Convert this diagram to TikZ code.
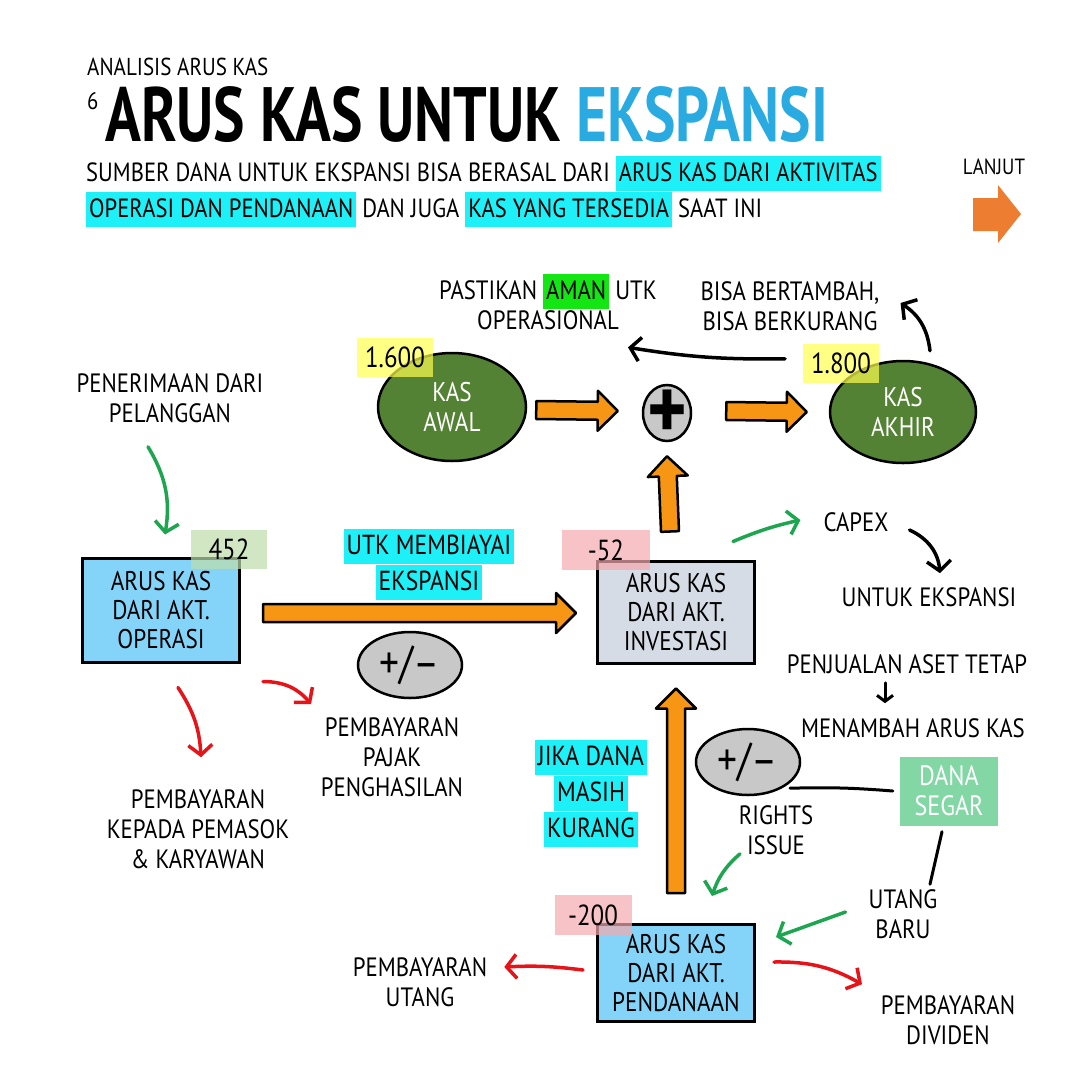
\documentclass[tikz,border=0pt]{standalone}
\usepackage{fontspec}
\setmainfont[FakeStretch=0.86]{PT Sans}
\newfontfamily\titlefont[FakeStretch=0.77]{PT Sans}
\usetikzlibrary{positioning,calc,shapes.geometric,arrows.meta}

\definecolor{kasgreen}{RGB}{84,130,53}
\definecolor{boxblue}{RGB}{131,212,248}
\definecolor{boxgray}{RGB}{214,220,229}
\definecolor{numyellow}{RGB}{255,255,80}
\definecolor{numgreen}{RGB}{190,222,170}
\definecolor{numpink}{RGB}{244,170,175}
\definecolor{hlcyan}{RGB}{30,240,248}
\definecolor{hlgreen}{RGB}{20,230,20}
\definecolor{arrorange}{RGB}{247,150,20}
\definecolor{lanjutorange}{RGB}{237,125,49}
\definecolor{segargreen}{RGB}{130,215,165}
\definecolor{arrred}{RGB}{230,20,25}
\definecolor{arrgreen}{RGB}{30,165,80}
\definecolor{ekspblue}{RGB}{41,171,226}
\definecolor{pmgray}{RGB}{200,200,200}

\newcommand{\hilite}[2][hlcyan]{{\setlength{\fboxsep}{0pt}\colorbox{#1}{\rule[-9pt]{0pt}{35pt}\hspace{3pt}#2\hspace{3pt}}}}

\begin{document}
\begin{tikzpicture}[x=1pt,y=-1pt,
  lbl/.style={align=center,inner sep=1pt,font=\fontsize{26.5}{30}\selectfont},
  flowbox/.style={lbl,draw,line width=3pt,minimum width=157,minimum height=102,font=\fontsize{27}{29}\selectfont},
  numbox/.style={lbl,fill opacity=0.7,text opacity=1,minimum width=76,minimum height=39,font=\fontsize{29}{30}\selectfont},
  kasell/.style={lbl,ellipse,draw,line width=2.5pt,fill=kasgreen,text=white,minimum width=148,minimum height=108,font=\fontsize{27}{30}\selectfont},
  pm/.style={ellipse,draw,line width=2.5pt,fill=pmgray,minimum width=104,minimum height=66,inner sep=0pt,font=\fontsize{46}{46}\selectfont},
  thin/.style={line width=3.5pt,line cap=round,-{Straight Barb[length=10pt,width=24pt]}},
  redarr/.style={thin,draw=arrred},
  greenarr/.style={thin,draw=arrgreen},
  blackarr/.style={thin,draw=black},
  fat/.style={draw=black,line width=2.5pt,fill=arrorange,line join=round,
    to path={let \p1=(\tikztostart), \p2=(\tikztotarget), \p3=($(\p2)!20pt!(\p1)$) in
      ($(\p1)!9pt!90:(\p2)$) -- ($(\p3)!9pt!90:(\p2)$) -- ($(\p3)!20pt!90:(\p2)$) -- (\p2)
      -- ($(\p3)!20pt!-90:(\p2)$) -- ($(\p3)!9pt!-90:(\p2)$) -- ($(\p1)!9pt!-90:(\p2)$) -- cycle}}]
\fill[white] (0,0) rectangle (1080,1080);
\useasboundingbox (0,0) rectangle (1080,1080);

% heading
\node[lbl,anchor=west,font=\fontsize{24.5}{28}\selectfont] (kicker) at (86,67) {ANALISIS ARUS KAS};
\node[lbl,anchor=west,font=\fontsize{24}{28}\selectfont] (num) at (86,101) {6};
\node[anchor=west,inner sep=0pt,font=\titlefont\bfseries\fontsize{77}{80}\selectfont] (title) at (105,115) {ARUS KAS UNTUK \textcolor{ekspblue}{EKSPANSI}};
\node[lbl,anchor=west,inner sep=0pt,font=\fontsize{26.3}{36}\selectfont] (sub1) at (86,173) {SUMBER DANA UNTUK EKSPANSI BISA BERASAL DARI \hilite{ARUS KAS DARI AKTIVITAS}};
\node[lbl,anchor=west,inner sep=0pt,font=\fontsize{26.3}{36}\selectfont] (sub2) at (86,209) {\hilite{OPERASI DAN PENDANAAN} DAN JUGA \hilite{KAS YANG TERSEDIA} SAAT INI};
\node[lbl,font=\fontsize{22}{26}\selectfont] (lanjut) at (994,167) {LANJUT};
\fill[lanjutorange] (973,198) -- (998,198) -- (998,185) -- (1021,214) -- (998,243) -- (998,231) -- (973,231) -- cycle;

% kas awal + kas akhir
\node[lbl] (aman) at (548,302) {PASTIKAN \hilite[hlgreen]{AMAN} UTK\\OPERASIONAL};
\node[lbl] (bisa) at (790,306) {BISA BERTAMBAH,\\BISA BERKURANG};
\node[kasell] (awal) at (452,407) {KAS\\AWAL};
\node[kasell,minimum width=146,minimum height=102] (akhir) at (903,412) {KAS\\AKHIR};
\node[numbox,fill=numyellow] (n1600) at (395,357) {1.600};
\node[numbox,fill=numyellow] (n1800) at (841,363) {1.800};
\node[ellipse,draw,line width=2.5pt,fill=pmgray,minimum width=48,minimum height=56,inner sep=0pt,font=\bfseries\fontsize{88}{88}\selectfont] (plus) at (667,413) {\smash{\makebox[0pt]{\raisebox{-0.3em}{+}}}};
\draw[fat] ($(awal.east)+(9,3)$) to ($(plus.west)+(-24,-2)$);
\draw[fat] ($(plus.east)+(34,-2)$) to ($(akhir.west)+(-22,0)$);
\draw[blackarr] ($(akhir.north)+(-118,-1)$) to[bend left=5] ($(aman.south)+(80,16)$);
\draw[blackarr] ($(akhir.north)+(27,-9)$) to[bend right=25] ($(bisa.east)+(20,-3)$);

% operasi
\node[lbl] (terima) at (170,398) {PENERIMAAN DARI\\PELANGGAN};
\node[flowbox,fill=boxblue,minimum height=104] (operasi) at (161,610) {ARUS KAS\\DARI AKT.\\OPERASI};
\node[numbox,fill=numgreen] (n452) at (229,549) {452};
\node[lbl,font=\fontsize{27.5}{34}\selectfont] (biayai) at (429,564) {\hilite{UTK MEMBIAYAI}\\\hilite{EKSPANSI}};
\node[pm] (pm1) at (410,665) {+/--};
\node[lbl] (pajak) at (392,757) {PEMBAYARAN\\PAJAK\\PENGHASILAN};
\node[lbl] (pemasok) at (198,829) {PEMBAYARAN\\KEPADA PEMASOK\\\& KARYAWAN};
\draw[greenarr] ($(terima.south)+(-22,23)$) to[bend left=20] ($(operasi.north)+(4,-22)$);
\draw[redarr] ($(operasi.south)+(17,24)$) to[bend left=15] ($(pemasok.north)+(3,-31)$);
\draw[redarr] ($(operasi.south east)+(22,18)$) to[bend left=25] ($(pajak.north)+(-81,-12)$);

% investasi
\node[flowbox,fill=boxgray] (investasi) at (676,612) {ARUS KAS\\DARI AKT.\\INVESTASI};
\node[numbox,fill=numpink,minimum width=88,minimum height=40] (n52) at (606,550) {-52};
\draw[fat] ($(operasi.east)+(22,3)$) to ($(investasi.west)+(-20,1)$);
\draw[fat] ($(investasi.north)+(-6,-28)$) to ($(plus.south)+(0,14)$);
\node[lbl] (capex) at (856,522) {CAPEX};
\node[lbl] (ekspansi) at (929,597) {UNTUK EKSPANSI};
\node[lbl] (jual) at (907,664) {PENJUALAN ASET TETAP};
\node[lbl] (tambah) at (913,728) {MENAMBAH ARUS KAS};
\draw[greenarr] ($(investasi.north east)+(-23,-18)$) to[bend left=5] ($(capex.west)+(-22,-2)$);
\draw[blackarr] ($(capex.east)+(20,8)$) to[bend left=30] ($(ekspansi.north)+(11,-13)$);
\draw[blackarr,line width=3pt,-{Straight Barb[length=6pt,width=16pt]}] ($(jual.south)+(-22,8)$) -- ($(tambah.north)+(-28,-14)$);

% pendanaan
\node[pm] (pm2) at (748,762) {+/--};
\node[lbl,font=\fontsize{27.5}{28}\selectfont] (jika) at (591,793) {\hilite{JIKA DANA}\\\hilite{MASIH}\\\hilite{KURANG}};
\node[lbl,fill=segargreen,text=white,minimum width=98,minimum height=69,font=\fontsize{28}{30}\selectfont] (segar) at (949,791) {DANA\\SEGAR};
\node[lbl] (rights) at (776,830) {RIGHTS\\ISSUE};
\node[lbl] (utang) at (903,914) {UTANG\\BARU};
\node[flowbox,fill=boxblue,minimum height=97] (pendanaan) at (676,973) {ARUS KAS\\DARI AKT.\\PENDANAAN};
\node[numbox,fill=numpink,minimum width=77,minimum height=40] (n200) at (593,915) {-200};
\node[lbl] (bayarutang) at (420,982) {PEMBAYARAN\\UTANG};
\node[lbl] (dividen) at (948,1020) {PEMBAYARAN\\DIVIDEN};
\draw[fat] ($(pendanaan.north)+(0,-30)$) to ($(investasi.south)+(0,24)$);
\draw[line width=3pt,line cap=round] ($(rights.north)+(14,-16)$) to[bend left=3] ($(segar.west)+(-7,0)$);
\draw[line width=3pt,line cap=round] ($(segar.south)+(-7,6)$) -- ($(utang.north)+(27,-4)$);
\draw[greenarr] ($(rights.south)+(-36,-2)$) to[bend right=15] ($(pendanaan.north)+(36,-27)$);
\draw[greenarr] ($(utang.west)+(-22,-2)$) -- ($(pendanaan.east)+(20,-36)$);
\draw[redarr] ($(pendanaan.west)+(-13,-3)$) to[bend right=5] ($(bayarutang.east)+(16,-15)$);
\draw[redarr] ($(pendanaan.east)+(18,-11)$) to[bend left=15] ($(dividen.north)+(-86,-10)$);
\end{tikzpicture}
\end{document}
